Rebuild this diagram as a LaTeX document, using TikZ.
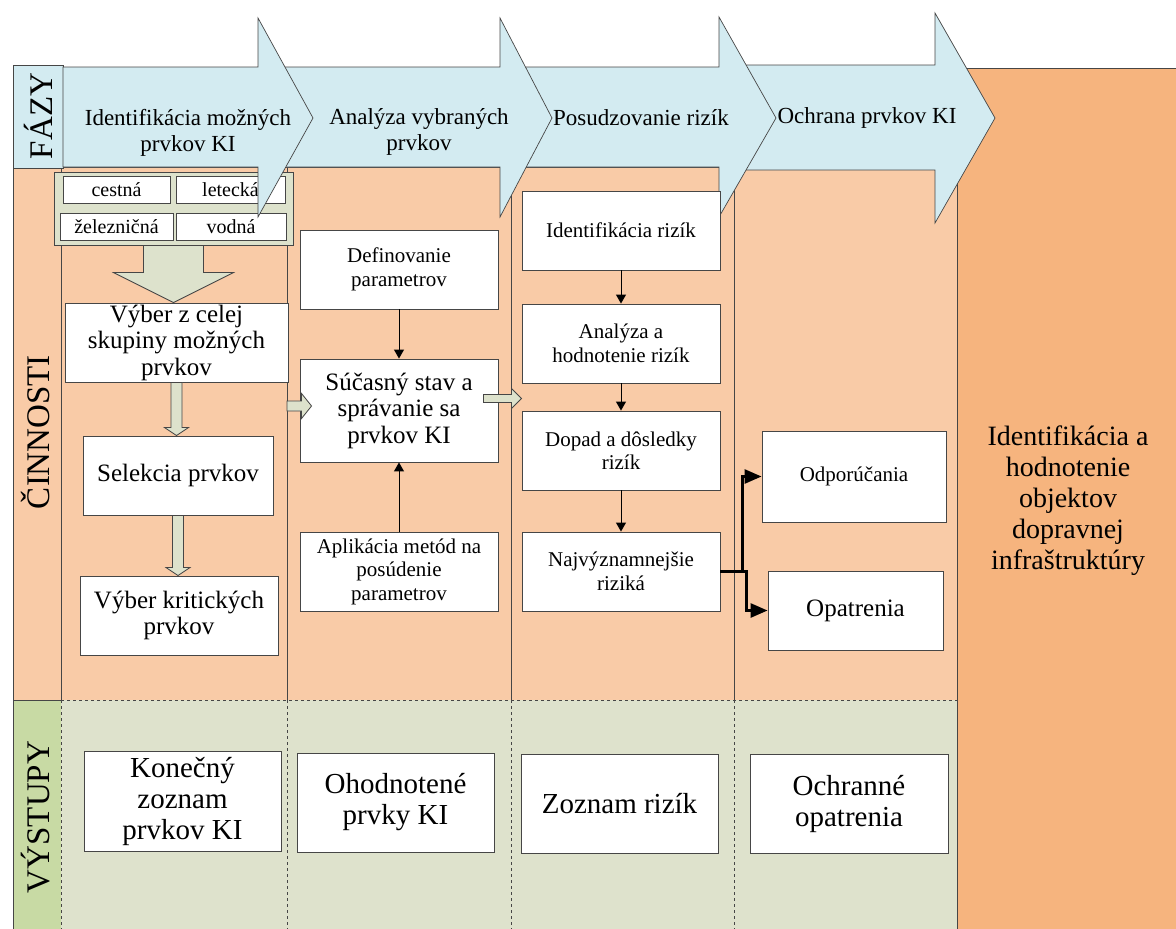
\documentclass[tikz,border=0pt]{standalone}
\usepackage{fontspec}
\setmainfont{Liberation Serif}
\usetikzlibrary{arrows.meta,calc}

\definecolor{phaseblue}{RGB}{211,235,241}
\definecolor{laneorange}{RGB}{249,203,167}
\definecolor{darkorange}{RGB}{246,180,126}
\definecolor{outgreen}{RGB}{222,226,204}
\definecolor{labelgreen}{RGB}{200,218,164}
\definecolor{olivefill}{RGB}{221,226,204}
\definecolor{linegray}{RGB}{70,70,70}

\begin{document}
\begin{tikzpicture}[x=1pt, y=-1pt,
    box/.style={draw=linegray, fill=white, line width=0.9pt, align=center, inner sep=1pt},
    txtsmall/.style={font=\fontsize{21}{23.5}\selectfont},
    txtmid/.style={font=\fontsize{25}{26.5}\selectfont},
    txtbig/.style={font=\fontsize{29}{31}\selectfont},
    phase/.style={draw=linegray, fill=phaseblue, line width=0.7pt},
    phasetxt/.style={align=center, font=\fontsize{23}{26}\selectfont},
    lanelabel/.style={rotate=90, font=\fontsize{33}{36}\selectfont},
    tag/.style={box, font=\fontsize{20}{22}\selectfont, minimum height=27},
    blockarr/.style={draw=linegray, fill=olivefill, line width=0.8pt},
    flow/.style={-{Triangle[length=9pt,width=10pt]}, line width=1pt},
    forkline/.style={-{Triangle[length=17pt,width=14pt]}, line width=2.8pt}
  ]
    \useasboundingbox (0,0) rectangle (1176,929);

    % block arrow downwards: from, to, shaft half width, head half width, head length
    \def\blockdown#1#2#3#4#5{\draw[blockarr] ($(#1)+(-#3,0)$) -- ($(#1|-#2)+(-#3,-#5)$)
        -- ($(#1|-#2)+(-#4,-#5)$) -- (#1|-#2) -- ($(#1|-#2)+(#4,-#5)$)
        -- ($(#1|-#2)+(#3,-#5)$) -- ($(#1)+(#3,0)$) -- cycle;}
    % block arrow to the right
    \def\blockright#1#2#3#4#5{\draw[blockarr] ($(#1)+(0,-#3)$) -- ($(#2|-#1)+(-#5,-#3)$)
        -- ($(#2|-#1)+(-#5,-#4)$) -- (#2|-#1) -- ($(#2|-#1)+(-#5,#4)$)
        -- ($(#2|-#1)+(-#5,#3)$) -- ($(#1)+(0,#3)$) -- cycle;}

    % Lanes
    \fill[laneorange] (61,167) rectangle (957,700);
    \fill[outgreen] (61,700) rectangle (957,929);
    \fill[darkorange] (957,68) rectangle (1176,929);
    \draw[linegray] (957,929) -- (957,68) -- (1176,68);
    \draw[linegray] (61,167) -- (957,167);
    \foreach \xx in {61,287,511,734}
        \draw[linegray, line width=1pt] (\xx,167) -- (\xx,700);
    \foreach \xx in {61,287,511,734}
        \draw[linegray, dashed] (\xx,700) -- (\xx,929);
    \draw[linegray, dashed] (61,700) -- (957,700);

    % Lane labels
    \draw[linegray, fill=phaseblue] (13,65) rectangle (63,168);
    \draw[linegray, fill=laneorange] (13,168) rectangle (61,700);
    \fill[labelgreen] (13,700) rectangle (61,929);
    \draw[linegray] (61,700) -- (13,700) -- (13,929);
    \node[lanelabel] (lfazy) at (38,116) {FÁZY};
    \node[lanelabel] (lcin) at (35,432) {ČINNOSTI};
    \node[lanelabel] (lvys) at (36,817) {VÝSTUPY};

    % Kinds of transport
    \node[draw=linegray, fill=olivefill, line width=1pt, minimum width=239, minimum height=73] (grp) at (173.5,208.5) {};
    \node[tag, minimum width=107] (cest) at (116.5,189.5) {cestná};
    \node[tag, minimum width=109] (let) at (230.5,189.5) {letecká};
    \node[tag, minimum width=113] (zel) at (116.5,226.5) {železničná};
    \node[tag, minimum width=110] (vod) at (231,226.5) {vodná};

    % Phases
    \draw[phase] (740,65) -- (935,65) -- (935,13) -- (995,118) -- (935,223) -- (935,170) -- (740,170) -- cycle;
    \draw[phase] (520,67) -- (719,67) -- (719,17) -- (776,118) -- (719,217) -- (719,167) -- (520,167) -- cycle;
    \draw[phase] (275,67) -- (500,67) -- (500,18) -- (552,118) -- (500,217) -- (500,167) -- (275,167) -- cycle;
    \draw[phase] (63,67) -- (258,67) -- (258,18) -- (313,118) -- (258,217) -- (258,167) -- (63,167) -- cycle;
    \node[phasetxt] (ph1) at (188,133) {Identifikácia možných\\prvkov KI};
    \node[phasetxt] (ph2) at (419,132) {Analýza vybraných\\prvkov};
    \node[phasetxt] (ph3) at (641,118) {Posudzovanie rizík};
    \node[phasetxt] (ph4) at (867,118) {Ochrana prvkov KI};

    % Activities
    \node[box, txtmid, minimum width=223, minimum height=79] (sel1) at (176.5,342.5) {Výber z celej\\skupiny možných\\prvkov};
    \node[box, txtmid, minimum width=190, minimum height=79] (sel2) at (178,475.5) {Selekcia prvkov};
    \node[box, txtmid, minimum width=198, minimum height=79] (sel3) at (179,615.5) {Výber kritických\\prvkov};

    \node[box, txtsmall, minimum width=198, minimum height=79] (defp) at (399,269.5) {Definovanie\\parametrov};
    \node[box, txtmid, minimum width=198, minimum height=103] (cur) at (399,410.5) {Súčasný stav a\\správanie sa\\prvkov KI};
    \node[box, txtsmall, minimum width=198, minimum height=79] (apl) at (399,571.5) {Aplikácia metód na\\posúdenie\\parametrov};

    \node[box, txtsmall, minimum width=198, minimum height=79] (rid) at (621,230.5) {Identifikácia rizík};
    \node[box, txtsmall, minimum width=198, minimum height=79] (ran) at (621,343.5) {Analýza a\\hodnotenie rizík};
    \node[box, txtsmall, minimum width=198, minimum height=79] (rdo) at (621,450.5) {Dopad a dôsledky\\rizík};
    \node[box, txtsmall, minimum width=198, minimum height=79] (rnaj) at (621,571.5) {Najvýznamnejšie\\riziká};

    \node[box, txtsmall, minimum width=184, minimum height=91] (odp) at (854,476.5) {Odporúčania};
    \node[box, txtmid, minimum width=175, minimum height=79] (opa) at (855.5,610.5) {Opatrenia};

    \node[align=center, font=\fontsize{28}{31}\selectfont] (obj) at (1068,501) {Identifikácia a\\hodnotenie\\objektov\\dopravnej\\infraštruktúry};

    % Outputs
    \node[box, txtbig, minimum width=197, minimum height=100] (kon) at (182.5,801) {Konečný\\zoznam\\prvkov KI};
    \node[box, txtbig, minimum width=197, minimum height=99] (oho) at (395.5,802.5) {Ohodnotené\\prvky KI};
    \node[box, txtbig, minimum width=197, minimum height=99] (zoz) at (619.5,803.5) {Zoznam rizík};
    \node[box, txtbig, minimum width=198, minimum height=99] (och) at (849,803.5) {Ochranné\\opatrenia};

    % Connectors
    \draw[flow] (defp.south) -- (cur.north);
    \draw[flow] (apl.north) -- (cur.south);
    \draw[flow] (rid.south) -- (ran.north);
    \draw[flow] (ran.south) -- (rdo.north);
    \draw[flow] (rdo.south) -- (rnaj.north);
    \draw[forkline] (rnaj.east) -- ++(22,0) |- (odp.west);
    \draw[forkline] (rnaj.east) -- ++(26,0) |- (opa.west);

    % Block arrows
    \blockdown{grp.south}{sel1.north}{30}{60}{30}
    \blockdown{sel1.south}{sel2.north}{5.5}{12}{8}
    \blockdown{sel2.south}{sel3.north}{5.5}{12}{8}
    \coordinate (c1out) at (287,406);
    \coordinate (c1tip) at ($(cur.west)+(12,0)$);
    \blockright{c1out}{c1tip}{5}{12.5}{10}
    \coordinate (c2out) at ($(cur.east)+(-15,-12)$);
    \blockright{c2out}{ran.west}{4}{10}{10}
\end{tikzpicture}
\end{document}
